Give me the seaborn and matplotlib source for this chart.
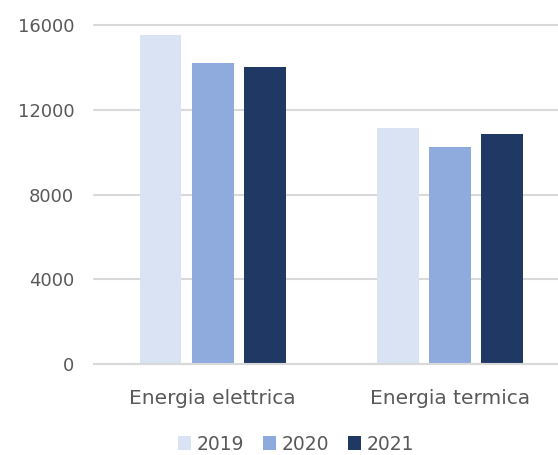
import pandas as pd
import matplotlib
matplotlib.use("Agg")
import matplotlib.pyplot as plt
import seaborn as sns

# Values
categories = ['Energia elettrica', 'Energia termica']
years = ['2019', '2020', '2021']
values_2019 = [15550, 11150]
values_2020 = [14200, 10250]
values_2021 = [14000, 10850]
y_ticks = [0, 4000, 8000, 12000, 16000]
colors = ['#DAE3F3', '#8FAADC', '#203864']

data = pd.DataFrame({
    'categoria': categories * 3,
    'anno': [y for y in years for _ in categories],
    'valore': values_2019 + values_2020 + values_2021,
})

sns.set_style('white')
plt.rcParams['font.family'] = ['DejaVu Sans']

fig = plt.figure(figsize=(5.58, 4.55), dpi=100)
ax = fig.add_axes([0.168, 0.2, 0.832, 0.745])

sns.barplot(data=data, x='categoria', y='valore', hue='anno', palette=colors,
            width=0.66, gap=0.2, ax=ax, edgecolor='none', saturation=1)

ax.set_ylim(0, 16000)
ax.set_xlim(-0.502, 1.456)
ax.set_yticks(y_ticks)
ax.set_yticklabels([str(t) for t in y_ticks])
ax.yaxis.grid(True, color='#D9D9D9', linewidth=1.5)
for line in ax.get_ygridlines():
    line.set_clip_on(False)
ax.set_axisbelow(True)
for side in ['top', 'right', 'left']:
    ax.spines[side].set_visible(False)
ax.spines['bottom'].set_color('#D9D9D9')
ax.spines['bottom'].set_linewidth(1.5)
ax.tick_params(axis='both', length=0, colors='#595959')
ax.tick_params(axis='y', labelsize=13, pad=14)
ax.tick_params(axis='x', labelsize=14.5, pad=18)
ax.set_xlabel('')
ax.set_ylabel('')

handles, labels = ax.get_legend_handles_labels()
ax.legend(handles, labels, loc='center', bbox_to_anchor=(0.53, 0.024),
          bbox_transform=fig.transFigure, ncol=3, frameon=False, fontsize=13.5,
          handlelength=0.7, handleheight=0.7, handletextpad=0.3, columnspacing=1.0,
          labelcolor='#595959')

fig.savefig('out.png', dpi=100)
